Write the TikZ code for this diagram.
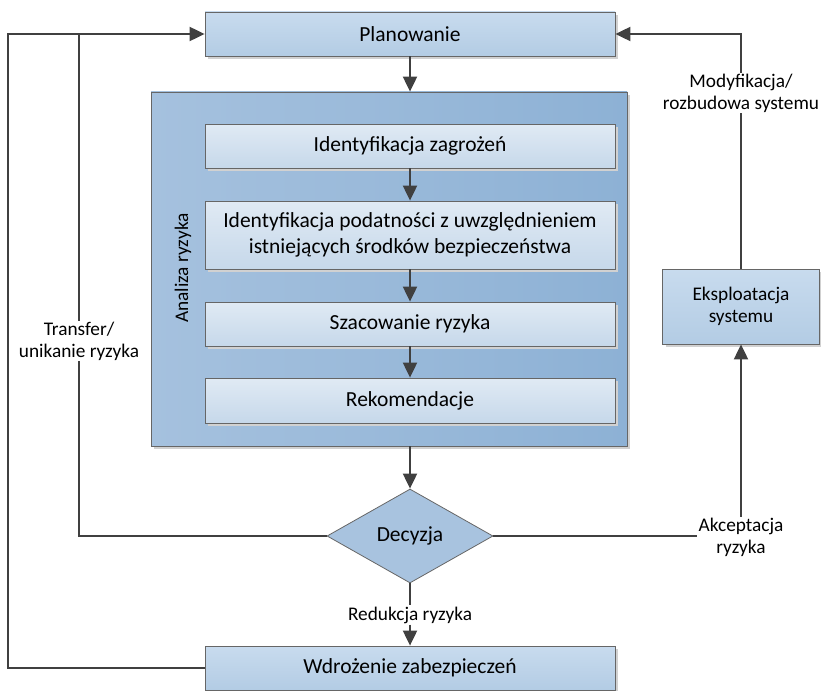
\documentclass[tikz,border=0pt]{standalone}
\usepackage{fontspec}
\setmainfont{Carlito}
\usetikzlibrary{shapes.geometric,arrows.meta,shadows}

\definecolor{linegray}{HTML}{404040}
\definecolor{boxtop}{HTML}{C8DBEE}
\definecolor{boxbot}{HTML}{B3CCE4}
\definecolor{arealeft}{HTML}{A5C1DE}
\definecolor{arearight}{HTML}{8DB1D5}
\definecolor{steptop}{HTML}{E0EAF4}
\definecolor{stepbot}{HTML}{C6D8EA}
\definecolor{decfill}{HTML}{A8C3DF}

\tikzset{
    shade/.style={drop shadow={shadow xshift=3pt, shadow yshift=-3pt, fill=black!18, opacity=1}},
    mainbox/.style={draw=linegray!80, line width=0.8pt, top color=boxtop, bottom color=boxbot,
        shade, minimum width=410pt, minimum height=44pt, inner sep=0pt,
        font=\fontsize{21.5}{26}\selectfont, align=center},
    stepbox/.style={draw=linegray!80, line width=0.8pt, top color=steptop, bottom color=stepbot,
        shade, minimum width=410pt, inner sep=0pt,
        font=\fontsize{21.5}{26}\selectfont, align=center},
    flowlabel/.style={font=\fontsize{19.3}{22}\selectfont, align=center, inner sep=1pt},
    line/.style={draw=linegray, line width=2pt},
    arr/.style={line, -{Triangle[length=15pt,width=14pt]}},
}

\begin{document}
\begin{tikzpicture}[x=1pt, y=-1pt]
    \useasboundingbox (0, 0) rectangle (821, 690);

    % analysis area
    \node [draw=linegray!80, line width=0.8pt, left color=arealeft, right color=arearight, shade,
        minimum width=476pt, minimum height=354pt, inner sep=0pt] (ana) at (389, 269) {};
    \node [flowlabel, rotate=90] (analabel) at (183, 268) {Analiza ryzyka};

    \node [mainbox] (plan) at (410, 34) {Planowanie};

    \node [stepbox, minimum height=44pt] (id1) at (410, 146) {Identyfikacja zagrożeń};
    \node [stepbox, minimum height=68pt] (id2) at (410, 235)
        {Identyfikacja podatności z uwzględnieniem\\istniejących środków bezpieczeństwa};
    \node [stepbox, minimum height=44pt] (szac) at (410, 324) {Szacowanie ryzyka};
    \node [stepbox, minimum height=45pt] (rek) at (410, 400.5) {Rekomendacje};

    \node [diamond, draw=linegray!80, line width=0.8pt, fill=decfill, inner sep=0pt,
        minimum width=166pt, minimum height=94pt,
        font=\fontsize{21.5}{26}\selectfont] (dec) at (410, 536) {Decyzja};

    \node [mainbox] (wdr) at (410, 668) {Wdrożenie zabezpieczeń};

    \node [mainbox, minimum width=157pt, minimum height=75pt,
        font=\fontsize{19.3}{22}\selectfont] (eks) at (741, 306.5) {Eksploatacja\\systemu};

    % labels on the feedback lines
    \node [flowlabel] (trans) at (79, 341) {Transfer/\\unikanie ryzyka};
    \node [flowlabel] (modyf) at (741, 93) {Modyfikacja/\\rozbudowa systemu};
    \node [flowlabel] (akc) at (741, 537) {Akceptacja\\ryzyka};
    \node [flowlabel, fill=white] (red) at (410, 615) {Redukcja ryzyka};

    \coordinate (outer) at (8, 34);
    \coordinate (join) at (79, 34);
    \coordinate (top) at (741, 34);

    % main flow
    \draw [arr] (plan.south) -- (plan.south |- ana.north);
    \draw [arr] (id1) -- (id2);
    \draw [arr] (id2) -- (szac);
    \draw [arr] (szac) -- (rek);
    \draw [arr] (dec.north |- ana.south) -- (dec.north);
    \draw [line] (dec.south) -- (red.north);
    \draw [arr] (red.south) -- (wdr.north);

    % acceptance loop
    \draw [line] (dec.east) -- (akc.west |- dec.east);
    \draw [arr] (akc.north) -- (eks.south);
    \draw [line] (eks.north) -- (modyf.south);
    \draw [arr] (modyf.north) -- (top) -- (plan.east);

    % transfer and implementation loops
    \draw [line] (dec.west) -| (trans.south);
    \draw [line] (trans.north) -- (join);
    \draw [arr] (wdr.west) -| (outer) -- (plan.west);

\end{tikzpicture}
\end{document}
